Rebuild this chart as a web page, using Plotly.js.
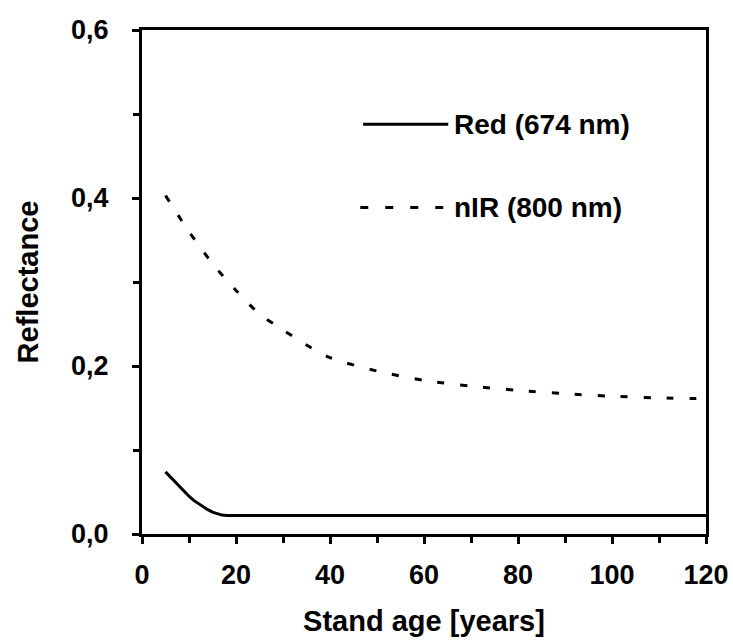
<!DOCTYPE html>
<html>
<head>
<meta charset="utf-8">
<script src="https://cdn.plot.ly/plotly-3.0.1.min.js"></script>
<style>html,body{margin:0;padding:0;background:#fff;}#chart{width:733px;height:644px;}</style>
</head>
<body>
<div id="chart"></div>
<script>
// Data
var redAge = [5, 6, 7, 8, 9, 10, 11, 12, 13, 14, 15, 16, 17, 18, 120];
var redReflectance = [0.074, 0.068, 0.062, 0.056, 0.050, 0.045, 0.040, 0.036, 0.032, 0.029, 0.026, 0.024, 0.0225, 0.022, 0.022];
var nirAge = [5, 10, 15, 20, 25, 30, 35, 40, 50, 60, 70, 80, 90, 100, 110, 120];
var nirReflectance = [0.403, 0.360, 0.322, 0.290, 0.262, 0.243, 0.225, 0.210, 0.194, 0.183, 0.176, 0.171, 0.167, 0.164, 0.162, 0.161];
var seriesNames = ['Red (674 nm)', 'nIR (800 nm)'];
var xTicks = [0, 20, 40, 60, 80, 100, 120];
var yTicks = [0, 0.2, 0.4, 0.6];

var FONT = 'Liberation Sans, Arial, sans-serif';
var traces = [
  {x: redAge, y: redReflectance, name: seriesNames[0], mode: 'lines', type: 'scatter',
   line: {color: '#000', width: 3, shape: 'linear'}, showlegend: false},
  {x: nirAge, y: nirReflectance, name: seriesNames[1], mode: 'lines', type: 'scatter',
   line: {color: '#000', width: 3, dash: '7px,16px', shape: 'spline', smoothing: 0.8}, showlegend: false}
];

var layout = {
  width: 733, height: 644,
  margin: {l: 142, r: 27, t: 30, b: 110},
  paper_bgcolor: '#fff', plot_bgcolor: '#fff',
  separators: ',.',
  font: {family: FONT, color: '#000', size: 26, weight: 'bold'},
  xaxis: {
    range: [0, 120], tickvals: xTicks, ticktext: xTicks.map(String),
    showline: true, mirror: true, linecolor: '#000', linewidth: 3,
    showgrid: false, zeroline: false,
    ticks: 'outside', ticklen: 7, tickwidth: 3, tickcolor: '#000',
    ticklabelstandoff: 8,
    minor: {ticks: 'outside', ticklen: 6, tickwidth: 3, tickcolor: '#000', dtick: 10, showgrid: false},
    tickfont: {family: FONT, size: 27, weight: 'bold', color: '#000'},
    title: {text: 'Stand age [years]', standoff: 22, font: {family: FONT, size: 29, weight: 'bold', color: '#000'}}
  },
  yaxis: {
    range: [0, 0.6], tickvals: yTicks, tickformat: '.1f',
    showline: true, mirror: true, linecolor: '#000', linewidth: 3,
    showgrid: false, zeroline: false,
    ticks: 'outside', ticklen: 7, tickwidth: 3, tickcolor: '#000',
    ticklabelstandoff: 18,
    minor: {ticks: 'outside', ticklen: 6, tickwidth: 3, tickcolor: '#000', dtick: 0.1, showgrid: false},
    tickfont: {family: FONT, size: 27, weight: 'bold', color: '#000'},
    title: {text: 'Reflectance', standoff: 24, font: {family: FONT, size: 29, weight: 'bold', color: '#000'}}
  },
  shapes: [
    {type: 'line', xref: 'paper', yref: 'paper', x0: 0.392, x1: 0.543, y0: 0.813, y1: 0.813,
     line: {color: '#000', width: 3}},
    {type: 'line', xref: 'paper', yref: 'paper', x0: 0.387, x1: 0.543, y0: 0.648, y1: 0.648,
     line: {color: '#000', width: 3, dash: '8px,17px'}}
  ],
  annotations: [
    {text: seriesNames[0], xref: 'paper', yref: 'paper', x: 0.55, y: 0.813, xanchor: 'left', yanchor: 'middle',
     showarrow: false, font: {family: FONT, size: 28, weight: 'bold', color: '#000'}},
    {text: seriesNames[1], xref: 'paper', yref: 'paper', x: 0.55, y: 0.648, xanchor: 'left', yanchor: 'middle',
     showarrow: false, font: {family: FONT, size: 28, weight: 'bold', color: '#000'}}
  ]
};

Plotly.newPlot('chart', traces, layout, {displayModeBar: false, staticPlot: true});
</script>
</body>
</html>
